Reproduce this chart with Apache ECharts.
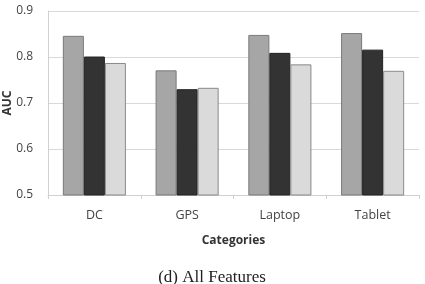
<!DOCTYPE html>
<html>
<head>
<meta charset="utf-8">
<script src="https://cdn.jsdelivr.net/npm/echarts@6/dist/echarts.min.js"></script>
<style>
  html, body { margin: 0; padding: 0; background: #fff; }
  #echart { width: 425px; height: 284px; }
</style>
</head>
<body>
<div id="echart"></div>
<script>
var categories = ['DC', 'GPS', 'Laptop', 'Tablet'];
var seriesA = [0.846, 0.771, 0.848, 0.852];
var seriesB = [0.801, 0.730, 0.809, 0.816];
var seriesC = [0.787, 0.733, 0.784, 0.770];

var EChart = echarts.init(document.getElementById('echart'));

function bar(data, color, border) {
  return {
    type: 'bar',
    data: data,
    barGap: '0%',
    barCategoryGap: '32%',
    itemStyle: { color: color, borderColor: border, borderWidth: 1 }
  };
}

EChart.setOption({
  animation: false,
  grid: { left: 48, right: 6, top: 11, bottom: 89, outerBoundsMode: 'none', containLabel: false },
  title: {
    text: '(d) All Features',
    left: 207,
    top: 264,
    textAlign: 'center',
    textStyle: { fontFamily: 'Liberation Serif', fontSize: 17, fontWeight: 'normal', color: '#222' }
  },
  xAxis: {
    type: 'category',
    data: categories,
    name: 'Categories',
    nameLocation: 'middle',
    nameGap: 40,
    nameMoveOverlap: false,
    nameTextStyle: { fontFamily: 'Open Sans', fontWeight: 'bold', fontSize: 12, color: '#333' },
    axisLine: { lineStyle: { color: '#d0d0d0' } },
    axisTick: { show: true, lineStyle: { color: '#d0d0d0' }, length: 4 },
    axisLabel: { fontFamily: 'Open Sans', fontSize: 12.5, color: '#444', margin: 14 }
  },
  yAxis: {
    type: 'value',
    min: 0.5,
    max: 0.9,
    interval: 0.1,
    name: 'AUC',
    nameLocation: 'middle',
    nameGap: 34,
    nameMoveOverlap: false,
    nameTextStyle: { fontFamily: 'Open Sans', fontWeight: 'bold', fontSize: 12, color: '#333' },
    axisLine: { show: true, lineStyle: { color: '#d0d0d0' } },
    axisTick: { show: false },
    splitLine: { lineStyle: { color: '#d9d9d9' } },
    axisLabel: {
      fontFamily: 'Open Sans', fontSize: 12, color: '#444', margin: 15,
      formatter: function (v) { return v.toFixed(1); }
    }
  },
  series: [
    bar(seriesA, '#a6a6a6', '#7a7a7a'),
    bar(seriesB, '#333333', '#222222'),
    bar(seriesC, '#dadada', '#8a8a8a')
  ]
});
</script>
</body>
</html>
